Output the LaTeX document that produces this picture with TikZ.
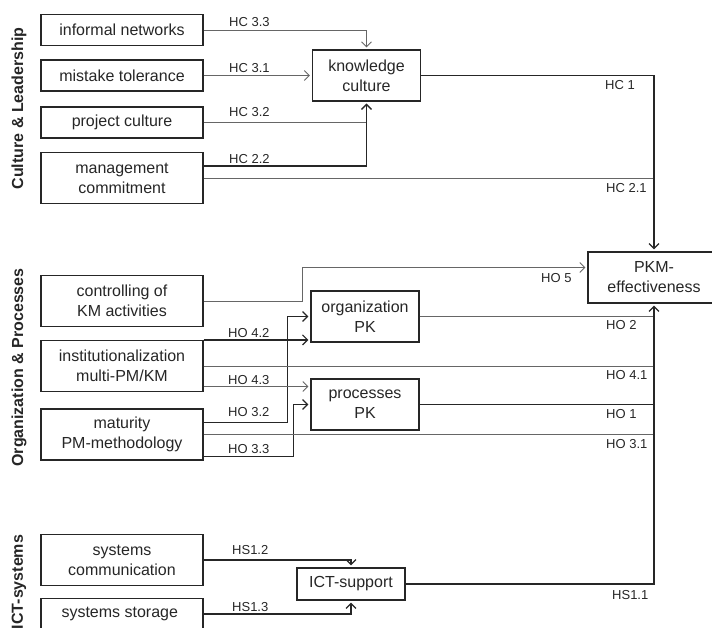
\documentclass[tikz,border=0pt]{standalone}
\usepackage{fontspec}
\setmainfont{Liberation Sans}
\usetikzlibrary{arrows.meta}

\begin{document}
\begin{tikzpicture}[x=1pt, y=-1pt, line join=miter]

                \pgfmathsetmacro{\lx}{122}   % centre of the factor boxes
                \pgfmathsetmacro{\cx}{654}   % collecting line into PKM

                \tikzset{
                  factor_box/.style  = {draw=black!85, line width=1.2pt, text=black!85, align=center,
                                        inner sep=0pt, minimum width=162pt,
                                        font=\fontsize{16}{20}\selectfont},
                  mid_box/.style     = {factor_box, minimum width=108pt, minimum height=51pt},
                  group_label/.style = {rotate=90, text=black!85, font=\fontsize{16}{18}\selectfont\bfseries},
                  hyp/.style         = {draw=black!60, line width=0.9pt},
                  hyp_dark/.style    = {draw=black!85, line width=1.2pt},
                  hyp_arrow/.style   = {-{Straight Barb[length=5pt,width=10pt]}, shorten >=2pt},
                  hyp_left/.style    = {anchor=south west, inner sep=0pt, text=black!85,
                                        font=\fontsize{13}{14}\selectfont},
                  hyp_right/.style   = {hyp_left, anchor=north west}
                }

                \useasboundingbox (0,0) rectangle (712,627);

                % factor groups
                \node[group_label] (g_cult) at (19,108.5) {Culture \& Leadership};
                \node[group_label] (g_org)  at (19,367.5) {Organization \& Processes};
                \node[group_label] (g_ict)  at (19,582)   {ICT-systems};

                \foreach \nm/\ypos/\bh/\txt in {
                    infnet/30/31/{informal networks},
                    mistol/75.5/31/{mistake tolerance},
                    projcult/122.5/31/{project culture},
                    mgmt/178/51/{management\\commitment},
                    ctrl/301/51/{controlling of\\KM activities},
                    inst/366/51/{institutionalization\\multi-PM/KM},
                    mat/434.5/51/{maturity\\PM-methodology},
                    syscomm/560/51/{systems\\communication},
                    sysstor/614/31/{systems storage}
                }{
                    \node[factor_box, minimum height=\bh] (\nm) at (\lx,\ypos) {\txt};
                }

                \node[mid_box] (knowcult) at (366.5,75.5) {knowledge\\culture};
                \node[mid_box] (orgpk)    at (365,316.5)  {organization\\PK};
                \node[mid_box] (procpk)   at (365,404.5)  {processes\\PK};
                \node[mid_box, minimum height=32pt] (ict) at (351,584) {ICT-support};
                \node[factor_box, minimum width=132pt, minimum height=51pt] (pkm) at (\cx,277.5) {PKM-\\effectiveness};

                % culture & leadership
                \draw[hyp, hyp_arrow] (infnet.east) -| (knowcult.north);
                \draw[hyp, hyp_arrow] (mistol.east) -- (knowcult.west);
                \draw[hyp, hyp_arrow] (projcult.east) -| (knowcult.south);
                \draw[hyp_dark, hyp_arrow] ([yshift=12pt]mgmt.east) -| (knowcult.south);
                \draw[hyp] (mgmt.east) -- (mgmt.east -| pkm.north);
                \draw[hyp_dark, hyp_arrow] (knowcult.east) -| (pkm.north);

                % organization & processes
                \draw[hyp, hyp_arrow] (ctrl.east) -- ++(99,0) |- ([yshift=10pt]pkm.west);
                \draw[hyp_dark, hyp_arrow] (inst.north east) -- (inst.north east -| orgpk.west);
                \draw[hyp_dark, hyp_arrow] ([yshift=12pt]mat.east) -- ++(84,0) |- (orgpk.west);
                \draw[hyp] (inst.east) -- (inst.east -| pkm.south);
                \draw[hyp, hyp_arrow] ([yshift=-20.5pt]inst.east) -- ([yshift=-20.5pt]inst.east -| procpk.west);
                \draw[hyp_dark, hyp_arrow] ([yshift=-22pt]mat.east) -- ++(90,0) |- (procpk.west);
                \draw[hyp] (mat.east) -- (mat.east -| pkm.south);
                \draw[hyp] (orgpk.east) -- (orgpk.east -| pkm.south);
                \draw[hyp_dark] (procpk.east) -- (procpk.east -| pkm.south);

                % ICT-systems
                \draw[hyp_dark, hyp_arrow] (syscomm.east) -| (ict.north);
                \draw[hyp_dark, hyp_arrow] (sysstor.east) -| (ict.south);
                \draw[hyp_dark, hyp_arrow] (ict.east) -| (pkm.south);

                % hypotheses
                \node[hyp_left]  (l_hc33) at (229,26.8)  {HC 3.3};
                \node[hyp_left]  (l_hc31) at (229,72.5)  {HC 3.1};
                \node[hyp_left]  (l_hc32) at (229,117)   {HC 3.2};
                \node[hyp_left]  (l_hc22) at (229,163.5) {HC 2.2};
                \node[hyp_right] (l_hc1)  at (605,80)    {HC 1};
                \node[hyp_right] (l_hc21) at (606,183)   {HC 2.1};
                \node[hyp_right] (l_ho5)  at (541,273.5) {HO 5};
                \node[hyp_left]  (l_ho42) at (228,337.5) {HO 4.2};
                \node[hyp_left]  (l_ho43) at (228,384.5) {HO 4.3};
                \node[hyp_left]  (l_ho32) at (228,417)   {HO 3.2};
                \node[hyp_left]  (l_ho33) at (228,453.5) {HO 3.3};
                \node[hyp_right] (l_ho2)  at (606,320)   {HO 2};
                \node[hyp_right] (l_ho41) at (606,370)   {HO 4.1};
                \node[hyp_right] (l_ho1)  at (606,409.5) {HO 1};
                \node[hyp_right] (l_ho31) at (606,439.5) {HO 3.1};
                \node[hyp_left]  (l_hs12) at (232,555)   {HS1.2};
                \node[hyp_left]  (l_hs13) at (232,612)   {HS1.3};
                \node[hyp_right] (l_hs11) at (612,590)   {HS1.1};
            \end{tikzpicture}
\end{document}
